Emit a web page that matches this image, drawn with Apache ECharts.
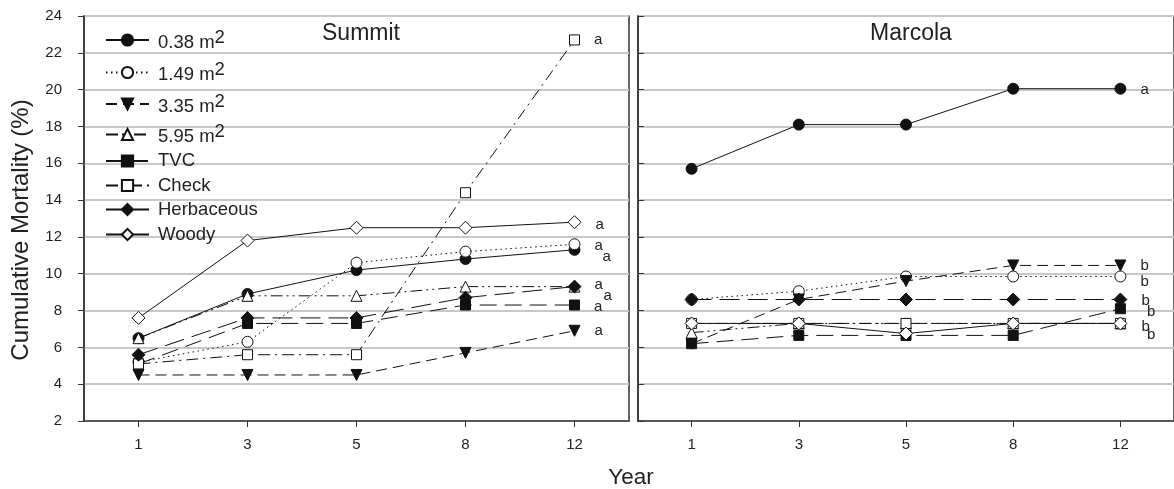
<!DOCTYPE html>
<html><head><meta charset="utf-8">
<script src="https://cdn.jsdelivr.net/npm/echarts@6/dist/echarts.min.js"></script>
<style>html,body{margin:0;padding:0;background:#fff}#c{width:1174px;height:489px}</style>
</head><body><div id="c"></div>
<script>
// ---- data ----
const years = ['1', '3', '5', '8', '12'];
const seriesNames = ['0.38 m2', '1.49 m2', '3.35 m2', '5.95 m2', 'TVC', 'Check', 'Herbaceous', 'Woody'];
const panelNames = ['Summit', 'Marcola'];
const yTicks = [2, 24, 2]; // min, max, interval

// Summit
const summit038 = [6.5, 8.9, 10.2, 10.8, 11.3];
const summit149 = [5.2, 6.3, 10.6, 11.2, 11.6];
const summit335 = [4.5, 4.5, 4.5, 5.7, 6.9];
const summit595 = [6.5, 8.8, 8.8, 9.3, 9.3];
const summitTVC = [5.1, 7.3, 7.3, 8.3, 8.3];
const summitCheck = [5.1, 5.6, 5.6, 14.4, 22.7];
const summitHerb = [5.6, 7.6, 7.6, 8.7, 9.3];
const summitWoody = [7.6, 11.8, 12.5, 12.5, 12.8];
const summitLetters = ['a', 'a', 'a', 'a', 'a', 'a', 'a', 'a'];

// Marcola
const marcola038 = [15.7, 18.1, 18.1, 20.05, 20.05];
const marcola149 = [8.6, 9.05, 9.85, 9.85, 9.85];
const marcola335 = [6.2, 8.6, 9.6, 10.45, 10.45];
const marcola595 = [6.8, 7.3, 7.3, 7.3, 7.3];
const marcolaTVC = [6.2, 6.65, 6.65, 6.65, 8.1];
const marcolaCheck = [7.3, 7.3, 7.3, 7.3, 7.3];
const marcolaHerb = [8.6, 8.6, 8.6, 8.6, 8.6];
const marcolaWoody = [7.3, 7.3, 6.75, 7.3, 7.3];
const marcolaLetters = ['a', 'b', 'b', '', 'b', 'b', 'b', 'b'];

const summitData = [summit038, summit149, summit335, summit595, summitTVC, summitCheck, summitHerb, summitWoody];
const marcolaData = [marcola038, marcola149, marcola335, marcola595, marcolaTVC, marcolaCheck, marcolaHerb, marcolaWoody];

// ---- styles ----
const INK = '#111';
const styles = [
  {symbol: 'circle', size: 11, fill: INK, dash: 'solid'},
  {symbol: 'circle', size: 11, fill: '#fff', dash: [1.5, 3.5]},
  {symbol: 'triangle', size: 11, fill: INK, dash: [11, 6], rotate: 180},
  {symbol: 'triangle', size: 11, fill: '#fff', dash: [12, 4, 2, 4, 2, 4]},
  {symbol: 'rect', size: 10, fill: INK, dash: [17, 8]},
  {symbol: 'rect', size: 10, fill: '#fff', dash: [12, 5, 2, 5]},
  {symbol: 'diamond', size: 13, fill: INK, dash: [20, 8]},
  {symbol: 'diamond', size: 13, fill: '#fff', dash: 'solid'}
];
const summitLabelOffset = [[8, 7], [0, 2], [0, 0], [0, -2], [0, 2], [0, 0], [8, 9], [0, 3]];
const marcolaLabelOffset = [[0, 1], [0, 5], [0, 0], [0, 0], [7, 3], [7, 11], [0, 1], [0, 3]];
const legendCenters = [35, 67.5, 99, 129.5, 158.5, 183, 207, 232];

function buildSeries(gridIdx, dataSets, letters, offsets) {
  return dataSets.map((vals, i) => {
    const st = styles[i];
    const data = vals.map((v, j) => {
      if (j === vals.length - 1 && letters[i]) {
        return {value: v, label: {show: true, formatter: letters[i], position: 'right', distance: 14,
          offset: offsets[i], fontSize: 15, color: '#222', fontFamily: 'Liberation Sans'}};
      }
      return v;
    });
    return {
      name: seriesNames[i], type: 'line', xAxisIndex: gridIdx, yAxisIndex: gridIdx,
      data: data, symbol: st.symbol, symbolSize: st.size, symbolRotate: st.rotate || 0,
      showAllSymbol: true, silent: true, animation: false,
      lineStyle: {color: INK, width: 1, type: st.dash},
      itemStyle: {color: st.fill, borderColor: INK, borderWidth: 1},
      emphasis: {disabled: true}
    };
  });
}

const richStyles = {
  t: {fontSize: 18.5, fontFamily: 'Liberation Sans', color: '#222', verticalAlign: 'bottom', lineHeight: 19},
  s: {fontSize: 18.5, fontFamily: 'Liberation Sans', color: '#222', verticalAlign: 'top', lineHeight: 24}
};

const legends = seriesNames.map((n, i) => ({
  data: [n], left: 105, top: legendCenters[i] - 7, orient: 'vertical',
  itemWidth: 43, itemHeight: 14, selectedMode: false, padding: 0,
  textStyle: {fontSize: 18.5, fontFamily: 'Liberation Sans', color: '#222', rich: richStyles, padding: [0, 0, 0, 4]},
  formatter: function (name) {
    if (name.endsWith(' m2')) return '{t|' + name.slice(0, -1) + '}{s|2}';
    return name;
  }
}));

function xAxisCfg(g) {
  return {
    type: 'category', gridIndex: g, data: years, boundaryGap: true,
    axisLine: {show: true, lineStyle: {color: '#333', width: 1.5}},
    axisTick: {show: true, alignWithLabel: true, length: 6, lineStyle: {color: '#333'}},
    axisLabel: {fontSize: 15, color: '#222', margin: 16, fontFamily: 'Liberation Sans'},
    splitLine: {show: false}
  };
}
function yAxisCfg(g, showLabels) {
  return {
    type: 'value', gridIndex: g, min: yTicks[0], max: yTicks[1], interval: yTicks[2],
    axisLine: {show: true, lineStyle: {color: '#333', width: 1.5}},
    axisTick: {show: true, inside: !showLabels, length: 6, lineStyle: {color: '#333'}},
    axisLabel: {show: showLabels, fontSize: 15, color: '#222', margin: 22, fontFamily: 'Liberation Sans'},
    splitLine: {show: true, lineStyle: {color: '#c8c8c8', width: 2}}
  };
}

const chart = echarts.init(document.getElementById('c'), null, {renderer: 'canvas'});
chart.setOption({
  animation: false,
  backgroundColor: '#fff',
  grid: [
    {left: 84, top: 16, width: 545, height: 405, show: true, borderColor: '#333', borderWidth: 1.5},
    {left: 638, top: 16, width: 545, height: 405, show: true, borderColor: '#333', borderWidth: 1.5}
  ],
  xAxis: [xAxisCfg(0), xAxisCfg(1)],
  yAxis: [yAxisCfg(0, true), yAxisCfg(1, false)],
  legend: legends,
  graphic: [
    {type: 'text', x: 361, y: 34, style: {text: panelNames[0], fontSize: 23, fontFamily: 'Liberation Sans', fill: '#222', textAlign: 'center', textVerticalAlign: 'middle'}},
    {type: 'text', x: 911, y: 34, style: {text: panelNames[1], fontSize: 23, fontFamily: 'Liberation Sans', fill: '#222', textAlign: 'center', textVerticalAlign: 'middle'}},
    {type: 'text', x: 631, y: 478, style: {text: 'Year', fontSize: 22.5, fontFamily: 'Liberation Sans', fill: '#222', textAlign: 'center', textVerticalAlign: 'middle'}},
    {type: 'text', x: 21, y: 230, rotation: Math.PI / 2, style: {text: 'Cumulative Mortality (%)', fontSize: 24, fontFamily: 'Liberation Sans', fill: '#222', textAlign: 'center', textVerticalAlign: 'middle'}}
  ],
  series: buildSeries(0, summitData, summitLetters, summitLabelOffset)
    .concat(buildSeries(1, marcolaData, marcolaLetters, marcolaLabelOffset))
});
</script></body></html>
